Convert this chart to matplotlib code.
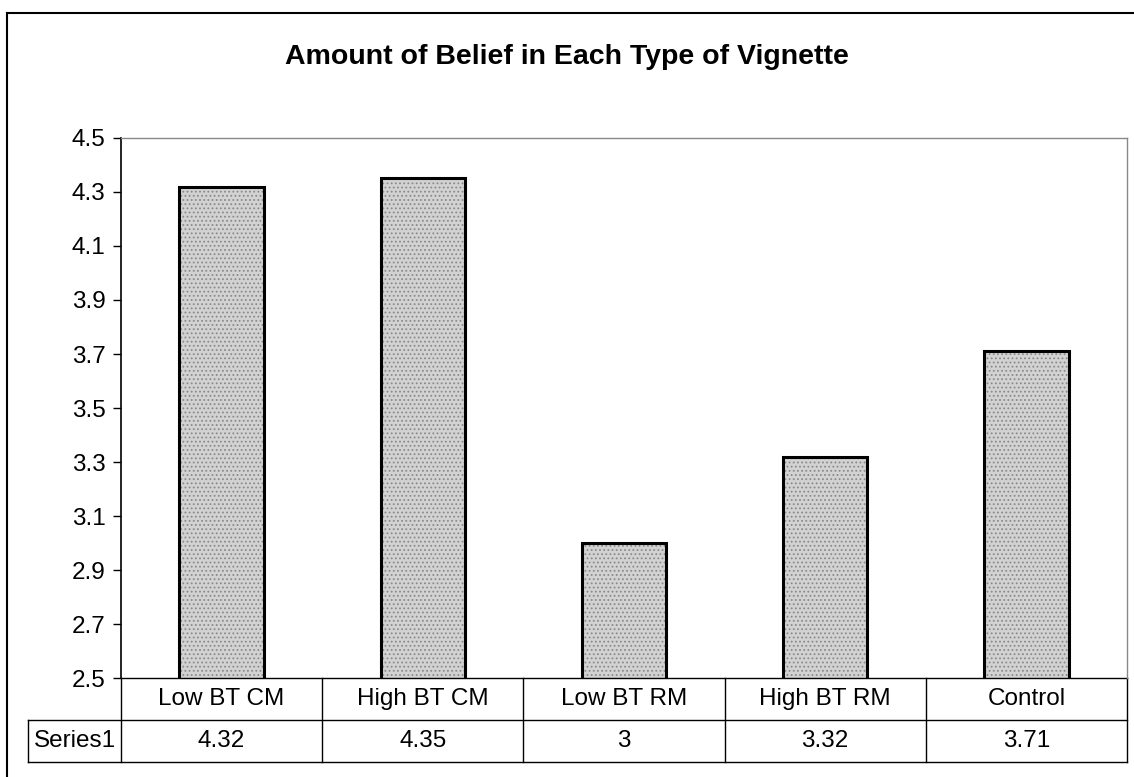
import numpy as np
import matplotlib.pyplot as plt
from matplotlib.lines import Line2D

plt.rcParams['font.family'] = ['Liberation Sans', 'DejaVu Sans']
plt.rcParams['hatch.linewidth'] = 0.8

categories = ["Low BT CM", "High BT CM", "Low BT RM", "High BT RM", "Control"]
values = [4.32, 4.35, 3.00, 3.32, 3.71]
value_labels = ["4.32", "4.35", "3", "3.32", "3.71"]
series_name = "Series1"
yticks = [2.5, 2.7, 2.9, 3.1, 3.3, 3.5, 3.7, 3.9, 4.1, 4.3, 4.5]

fig = plt.figure(figsize=(11.34, 7.77), dpi=100)
ax = fig.add_axes([0.1067, 0.1274, 0.8871, 0.6950])

x = np.arange(len(categories))
# stippled fill, then black outline on top
ax.bar(x, values, width=0.42, color="#d2d2d2", edgecolor="#8a8a8a", hatch="....",
       linewidth=0, zorder=2)
ax.bar(x, values, width=0.42, color="none", edgecolor="black", linewidth=2.2, zorder=3)
ax.set_xlim(-0.5, len(categories) - 0.5)
ax.set_ylim(2.5, 4.5)
ax.set_yticks(yticks)
ax.set_yticklabels([f"{t:.1f}" for t in yticks])
ax.set_xticks([])
ax.tick_params(axis='y', direction='out', length=6, width=1, labelsize=17.5, pad=5)

ax.spines['left'].set_color('black')
ax.spines['left'].set_linewidth(1.2)
for s in ['top', 'right']:
    ax.spines[s].set_color('#888888')
    ax.spines[s].set_linewidth(1)
    ax.spines[s].set_linestyle((0, (2, 1)))
ax.spines['bottom'].set_visible(False)

# data table under the bars, drawn in axes coordinates
n = len(categories)
rl = 93 / 1006
h = 84 / 540
tr = ax.transAxes
kw = dict(color='black', lw=1, transform=tr, clip_on=False)
ax.plot([0, 1], [0, 0], **kw)
ax.plot([-rl, 1], [-h / 2, -h / 2], **kw)
ax.plot([-rl, 1], [-h, -h], **kw)
for j in range(n + 1):
    ax.plot([j / n, j / n], [-h, 0], **kw)
ax.plot([-rl, -rl], [-h, -h / 2], **kw)
for j, cat in enumerate(categories):
    ax.text((j + 0.5) / n, -h / 4, cat, transform=tr, ha='center', va='center', fontsize=17.5)
    ax.text((j + 0.5) / n, -3 * h / 4, value_labels[j], transform=tr, ha='center',
            va='center', fontsize=17.5)
ax.text(-rl + 6 / 1006, -3 * h / 4, series_name, transform=tr, ha='left', va='center',
        fontsize=17.5)

fig.text(0.5, 0.927, "Amount of Belief in Each Type of Vignette",
         ha='center', va='center', fontsize=20.5, fontweight='bold')

# chart area border (top and left visible)
fig.add_artist(Line2D([7 / 1134, 7 / 1134], [0, 1 - 13 / 777], color='black', lw=1.5))
fig.add_artist(Line2D([7 / 1134, 1], [1 - 13 / 777, 1 - 13 / 777], color='black', lw=1.5))

fig.savefig("out.png", dpi=100)
